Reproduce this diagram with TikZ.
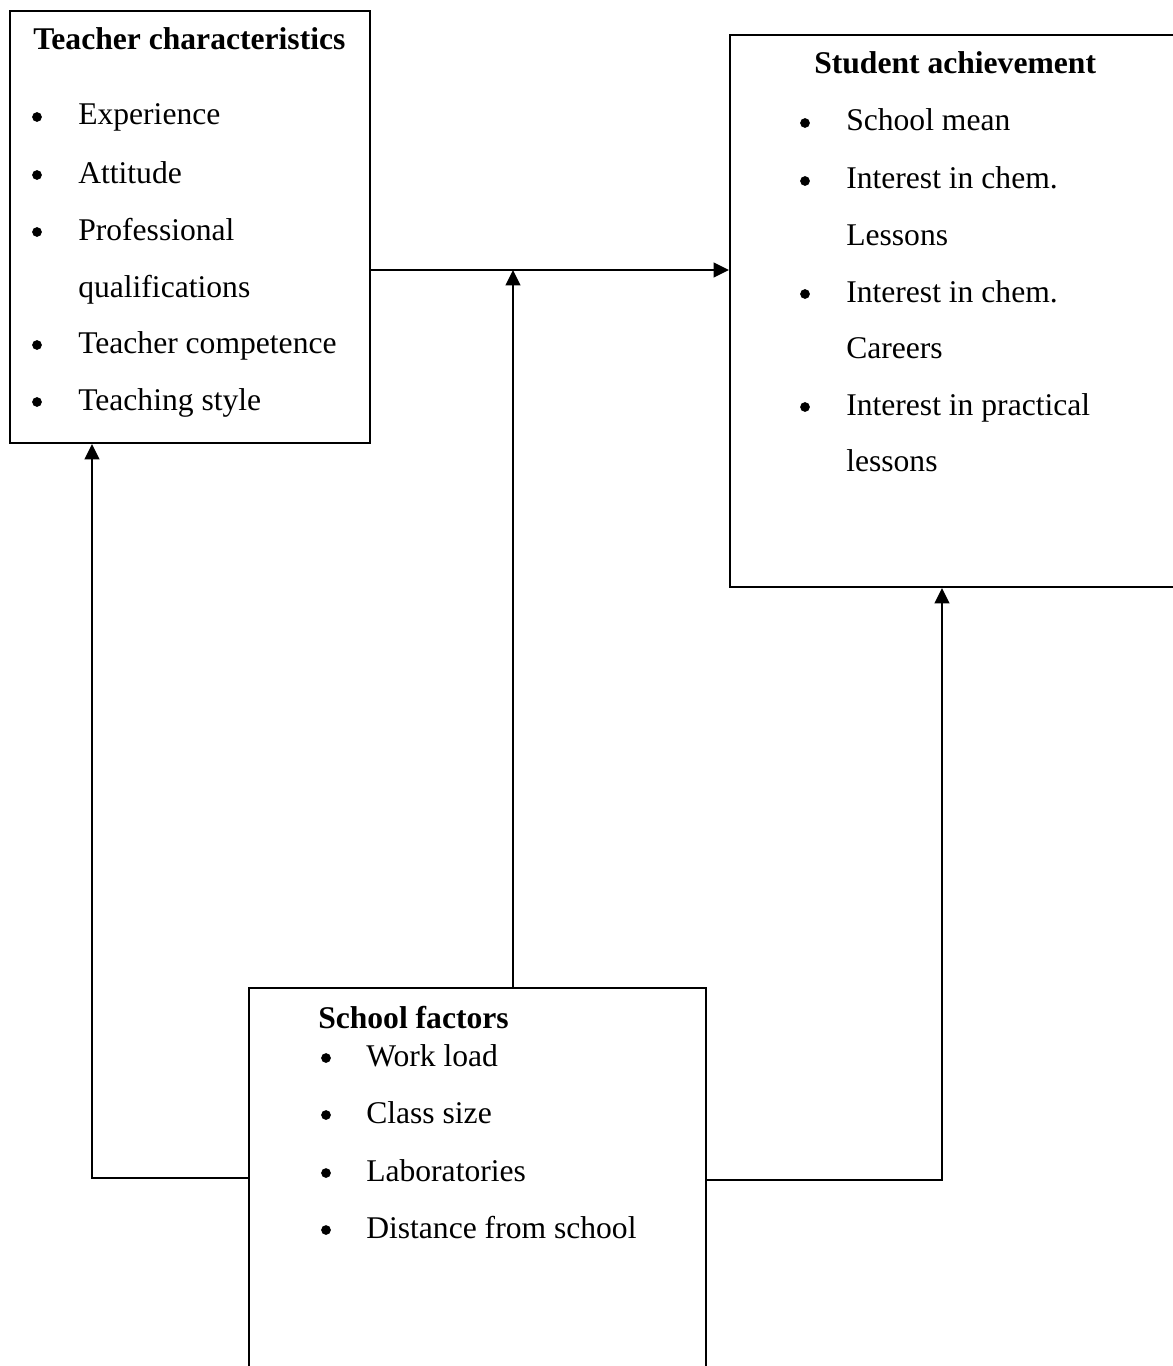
\documentclass[tikz,border=0pt]{standalone}
\usepackage{fontspec}
\setmainfont{Liberation Serif}
\usetikzlibrary{arrows.meta,calc}
\newcommand{\diagsz}{\fontsize{23.7}{28}\selectfont}
\tikzset{
  boxed/.style={draw, line width=1.5pt, rectangle, inner sep=0pt, anchor=north west},
  itemtxt/.style={anchor=base west, inner sep=0pt, font=\diagsz},
  headtxt/.style={anchor=base west, inner sep=0pt, font=\diagsz\bfseries},
  bul/.style={circle, fill=black, inner sep=0pt, minimum size=7.3pt},
  conn/.style={line width=1.5pt},
  arr/.style={conn, -{Triangle[length=11.5pt,width=11pt]}}
}
\begin{document}
\begin{tikzpicture}[x=0.75pt,y=-0.75pt]
\clip (0,0) rectangle (1173,1366);
\fill[white] (0,0) rectangle (1173,1366);
% boxes
\node[boxed, minimum width={360*0.75pt}, minimum height={432*0.75pt}] (teacher) at (9,10) {};
\node[boxed, minimum width={456*0.75pt}, minimum height={552*0.75pt}] (student) at (729,34) {};
\node[boxed, minimum width={457*0.75pt}, minimum height={393*0.75pt}] (school) at (248,987) {};
% teacher text
\node[headtxt] (th) at (33,50) {Teacher characteristics};
\foreach \txt/\yy [count=\i] in {Experience/125, Attitude/183, Professional/240, qualifications/297, Teacher competence/353, Teaching style/410}
  \node[itemtxt] (ti\i) at (78,\yy) {\txt};
\foreach \yy [count=\i] in {125,183,240,353,410}
  \node[bul] (tb\i) at (37,\yy-8) {};
% student text
\node[headtxt] (sh) at (814,74) {Student achievement};
\foreach \txt/\yy [count=\i] in {School mean/131, Interest in chem./189, Lessons/245, Interest in chem./302, Careers/358, Interest in practical/415, lessons/471}
  \node[itemtxt] (si\i) at (846,\yy) {\txt};
\foreach \yy [count=\i] in {131,189,302,415}
  \node[bul] (sb\i) at (805,\yy-8) {};
% school text
\node[headtxt] (fh) at (318,1028) {School factors};
\foreach \txt/\yy [count=\i] in {Work load/1066, Class size/1123, Laboratories/1181, Distance from school/1238}
  \node[itemtxt] (fi\i) at (366,\yy) {\txt};
\foreach \yy [count=\i] in {1066,1123,1181,1238}
  \node[bul] (fb\i) at (326,\yy-8) {};
% connectors
\coordinate (j) at (513,270);
\coordinate (lc) at (92,1178);
\coordinate (rc) at (942,1180);
\draw[arr] (teacher.east |- j) -- (student.west |- j);
\draw[arr] (j |- school.north) -- (j);
\draw[arr] (school.west |- lc) -- (lc) -- (lc |- teacher.south);
\draw[arr] (school.east |- rc) -- (rc) -- (rc |- student.south);
\end{tikzpicture}
\end{document}
